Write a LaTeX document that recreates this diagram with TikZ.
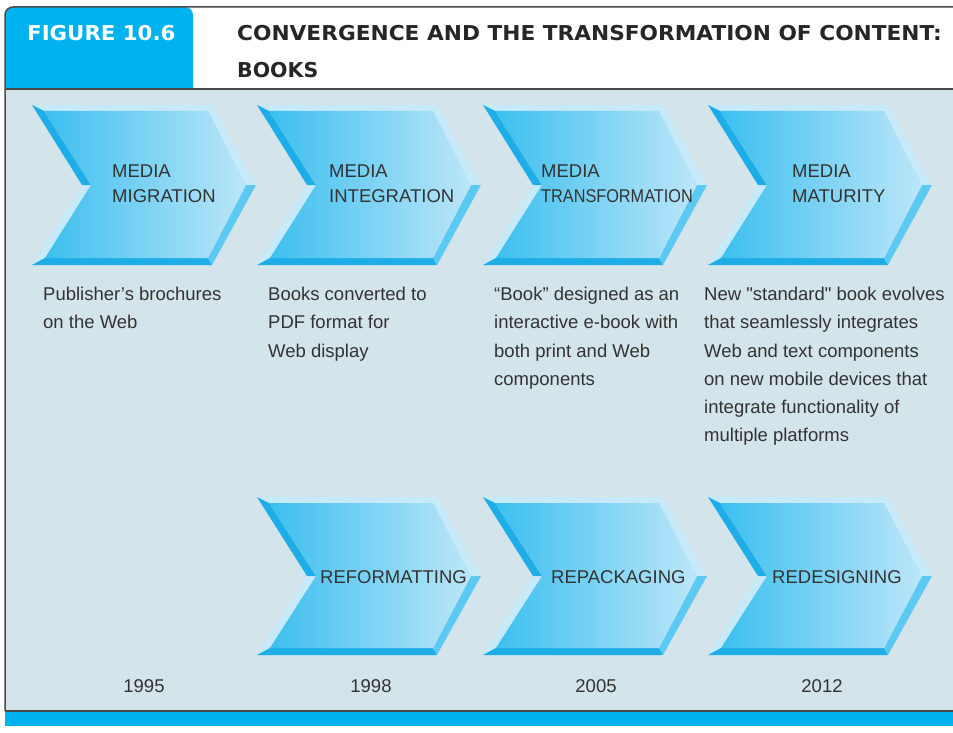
\documentclass[tikz,border=0pt]{standalone}
\usepackage{fontspec}
\setmainfont{Liberation Sans}[Ligatures=TeXOff]
\newfontfamily\headfont{DejaVu Sans}
\usetikzlibrary{positioning}

\definecolor{figblue}{HTML}{00B2EE}
\definecolor{panelbg}{HTML}{D4E4EB}
\definecolor{framegray}{HTML}{4A4A4A}
\definecolor{txtgray}{HTML}{333333}
\definecolor{chevdark}{HTML}{1FADE8}
\definecolor{chevmid}{HTML}{5BC9F2}
\definecolor{chevlight}{HTML}{C6EAF9}
\definecolor{chevleft}{HTML}{3CBFEF}
\definecolor{chevright}{HTML}{BCE6F8}

% one bevelled chevron: #1 = left x, #2 = top y, #3 = bottom y
\newcommand{\bookchevron}[3]{%
  \pgfmathsetmacro{\chmid}{(#2+#3)/2}
  \coordinate (A) at (#1,#2);
  \coordinate (B) at (#1+180,#2);
  \coordinate (C) at (#1+224,\chmid);
  \coordinate (D) at (#1+180,#3);
  \coordinate (E) at (#1,#3);
  \coordinate (F) at (#1+50,\chmid);
  % inner face
  \coordinate (A') at (#1+12,#2+6);
  \coordinate (B') at (#1+176,#2+6);
  \coordinate (C') at (#1+214,\chmid);
  \coordinate (D') at (#1+176,#3-7);
  \coordinate (E') at (#1+13,#3-7);
  \coordinate (F') at (#1+59,\chmid);
  \fill[chevlight] (A) -- (B) -- (C) -- (D) -- (E) -- (F) -- cycle;
  \fill[chevdark] (F) -- (A) -- (A') -- (F') -- cycle;
  \fill[chevdark] (E) -- (D) -- (D') -- (E') -- cycle;
  \fill[chevmid] (C) -- (D) -- (D') -- (C') -- cycle;
  \shade[left color=chevleft, right color=chevright]
    (A') -- (B') -- (C') -- (D') -- (E') -- (F') -- cycle;
}

\begin{document}
\begin{tikzpicture}[x=1pt, y=-1pt,
  chevtxt/.style={inner sep=0pt, anchor=north west, align=left, text=txtgray,
    font=\fontsize{18.5}{25}\selectfont},
  desctxt/.style={inner sep=0pt, anchor=north west, align=left, text=txtgray,
    font=\fontsize{18.5}{28.2}\selectfont},
  steptxt/.style={inner sep=0pt, anchor=base west, text=txtgray,
    font=\fontsize{18.5}{22}\selectfont},
  yeartxt/.style={inner sep=0pt, anchor=base, text=txtgray,
    font=\fontsize{18.5}{22}\selectfont}]
  \useasboundingbox (0,0) rectangle (953,733);
  \clip (0,0) rectangle (953,733);
  \fill[white] (0,0) rectangle (953,733);

  % panel and header
  \fill[panelbg] (5,89) rectangle (960,711);
  \fill[figblue] (5,89) {[rounded corners=8] -- (5,7) -- (193,7)} -- (193,89) -- cycle;
  \fill[figblue] (5,712) rectangle (960,726);
  \draw[framegray, line width=1.5] (5,711) {[rounded corners=8] -- (5,7)} -- (960,7);
  \draw[framegray, line width=1.5] (5,89) -- (960,89);
  \draw[framegray, line width=1.5] (5,711) -- (960,711);

  \node[inner sep=0pt, anchor=north west, text=white,
    font=\headfont\bfseries\fontsize{20.5}{37}\selectfont] (figlabel) at (27,25)
    {\scalebox{1.04}[1]{FIGURE 10.6}};
  \node[inner sep=0pt, anchor=north west, align=left, text=black!85,
    font=\headfont\bfseries\fontsize{20.5}{37}\selectfont] (figtitle) at (237,25)
    {\scalebox{1.058}[1]{CONVERGENCE AND THE TRANSFORMATION OF CONTENT:}\\BOOKS};

  % chevrons, upper and lower rows
  \foreach \cx in {32,257,483,708} {\bookchevron{\cx}{105}{265}}
  \foreach \cx in {257,483,708} {\bookchevron{\cx}{497}{655}}

  % stage names
  \node[chevtxt] (migr) at (112,164.5) {MEDIA\\MIGRATION};
  \node[chevtxt] (integ) at (329,164.5) {MEDIA\\INTEGRATION};
  \node[chevtxt] (transf) at (541,164.5) {MEDIA\\\scalebox{0.88}[1]{TRANSFORMATION}};
  \node[chevtxt] (matur) at (792,164.5) {MEDIA\\MATURITY};

  % descriptions
  \node[desctxt] (desca) at (43,287) {Publisher’s brochures\\on the Web};
  \node[desctxt] (descb) at (268,287) {Books converted to\\PDF format for\\Web display};
  \node[desctxt] (descc) at (494,287) {“Book” designed as an\\interactive e-book with\\both print and Web\\components};
  \node[desctxt] (descd) at (704,287) {New "standard" book evolves\\that seamlessly integrates\\Web and text components\\on new mobile devices that\\integrate functionality of\\multiple platforms};

  % lower row labels
  \node[steptxt] (reform) at (320,583) {REFORMATTING};
  \node[steptxt] (repack) at (551,583) {REPACKAGING};
  \node[steptxt] (redes) at (772,583) {REDESIGNING};

  % years
  \node[yeartxt] (yra) at (144,692) {1995};
  \node[yeartxt] (yrb) at (371,692) {1998};
  \node[yeartxt] (yrc) at (596,692) {2005};
  \node[yeartxt] (yrd) at (822,692) {2012};
\end{tikzpicture}
\end{document}
